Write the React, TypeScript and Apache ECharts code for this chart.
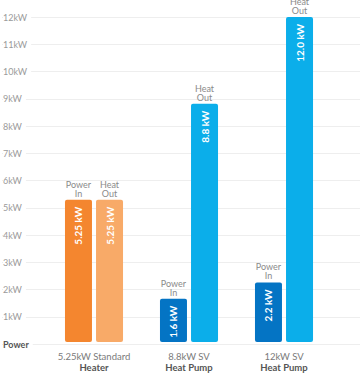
import React, { useEffect, useRef } from "react";
import * as echarts from "echarts";

const categories = ["5.25kW Standard", "8.8kW SV", "12kW SV"];
const categoryTypes = ["Heater", "Heat Pump", "Heat Pump"];
const powerIn = [5.25, 1.6, 2.2];
const heatOut = [5.25, 8.8, 12.0];
const powerInLabels = ["5.25 kW", "1.6 kW", "2.2 kW"];
const heatOutLabels = ["5.25 kW", "8.8 kW", "12.0 kW"];
const powerInColors = ["#F4862F", "#0474C4", "#0474C4"];
const heatOutColors = ["#F8AA68", "#0BAEEA", "#0BAEEA"];
const yMin = 0;
const yMax = 12;
const yInterval = 1;

const FONT = "Lato, 'Open Sans', sans-serif";

export default function App() {
  const ref = useRef<HTMLDivElement>(null);
  useEffect(() => {
    if (!ref.current) return;
    const chart = echarts.init(ref.current, undefined, { renderer: "svg" });
    const insideLabel = (labels: string[]) => ({
      show: true,
      position: "insideTop",
      rotate: 90,
      align: "right",
      verticalAlign: "middle",
      distance: 7,
      color: "#fff",
      fontWeight: "bold",
      fontSize: 10,
      fontFamily: FONT,
      formatter: (p: any) => labels[p.dataIndex],
    });
    const topLabel = (text: string) => ({
      show: true,
      position: "top",
      distance: 2,
      color: "#8a8a8a",
      fontSize: 9,
      lineHeight: 9,
      fontFamily: FONT,
      align: "center",
      formatter: () => text,
    });
    const zeros = categories.map(() => 0);
    const barWidth = 27;
    chart.setOption({
      animation: false,
      grid: [
        { left: 0, right: 0, top: 17, bottom: 29 },
        { left: 46.5, right: 28.5, top: 17, bottom: 29 },
      ],
      xAxis: [
        { gridIndex: 0, type: "value", show: false, min: 0, max: 1 },
        {
          gridIndex: 1,
          type: "category",
          data: categories,
          axisLine: { show: false },
          axisTick: { show: false },
          axisLabel: {
            interval: 0,
            margin: 9,
            fontSize: 9.5,
            lineHeight: 11,
            color: "#7a7a7a",
            fontFamily: FONT,
            formatter: (v: string, i: number) => `${v}\n{b|${categoryTypes[i]}}`,
            rich: {
              b: {
                fontSize: 9.5,
                lineHeight: 11,
                fontWeight: "bold",
                color: "#555",
                fontFamily: FONT,
              },
            },
          },
        },
      ],
      yAxis: [
        {
          gridIndex: 0,
          type: "value",
          min: yMin,
          max: yMax,
          interval: yInterval,
          axisLine: { show: false },
          axisTick: { show: false },
          splitLine: { lineStyle: { color: "#eeeeee", width: 1 } },
          axisLabel: {
            inside: true,
            margin: 1,
            fontSize: 9,
            color: "#9a9a9a",
            fontFamily: FONT,
            backgroundColor: "#fff",
            padding: [0, 4, 0, 0],
            formatter: (v: number) => (v === 0 ? "{p|Power}" : `${v}kW`),
            rich: {
              p: {
                fontSize: 9,
                fontWeight: "bold",
                color: "#555",
                fontFamily: FONT,
              },
            },
          },
        },
        { gridIndex: 1, type: "value", min: yMin, max: yMax, interval: yInterval, show: false },
      ],
      series: [
        {
          name: "Power In",
          type: "bar",
          xAxisIndex: 1,
          yAxisIndex: 1,
          stack: "p",
          barWidth,
          barGap: "15%",
          data: powerIn.map((v, i) => ({
            value: v,
            itemStyle: { color: powerInColors[i], borderRadius: 2 },
          })),
          label: insideLabel(powerInLabels),
        },
        {
          name: "Heat Out",
          type: "bar",
          xAxisIndex: 1,
          yAxisIndex: 1,
          stack: "h",
          barWidth,
          barGap: "15%",
          data: heatOut.map((v, i) => ({
            value: v,
            itemStyle: { color: heatOutColors[i], borderRadius: 2 },
          })),
          label: insideLabel(heatOutLabels),
        },
        {
          name: "Power In label",
          type: "bar",
          xAxisIndex: 1,
          yAxisIndex: 1,
          stack: "p",
          barWidth,
          data: zeros,
          itemStyle: { color: "transparent" },
          label: topLabel("Power\nIn"),
        },
        {
          name: "Heat Out label",
          type: "bar",
          xAxisIndex: 1,
          yAxisIndex: 1,
          stack: "h",
          barWidth,
          data: zeros,
          itemStyle: { color: "transparent" },
          label: topLabel("Heat\nOut"),
        },
      ],
    });
    return () => chart.dispose();
  }, []);
  return (
    <div
      ref={ref}
      style={{ position: "absolute", left: 0, top: 0, width: 360, height: 373 }}
    />
  );
}
